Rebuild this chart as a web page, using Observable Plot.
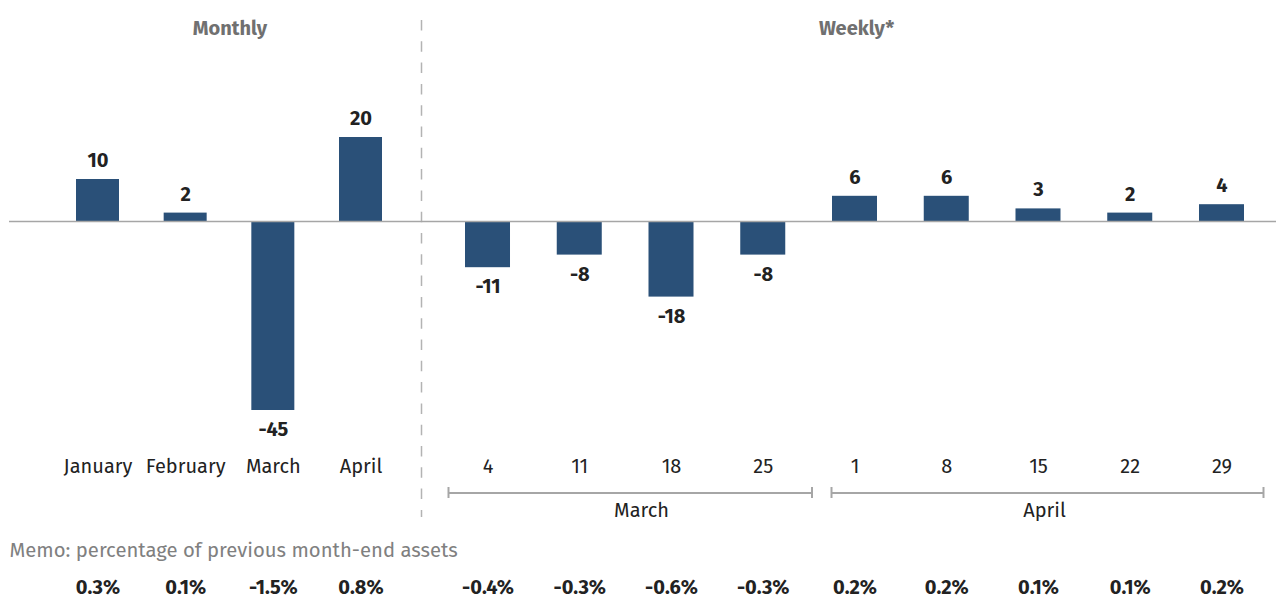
<!DOCTYPE html>
<html>
<head>
<meta charset="utf-8">
<script src="https://cdn.jsdelivr.net/npm/d3@7"></script>
<script src="https://cdn.jsdelivr.net/npm/@observablehq/plot@0.6"></script>
<style>
  html, body { margin: 0; padding: 0; background: #ffffff; }
  #chart { position: relative; width: 1276px; height: 598px; overflow: hidden; background: #ffffff; }
  #chart svg { position: absolute; left: 0; top: 0; }
</style>
</head>
<body>
<div id="chart"></div>
<script>
// ---- Data ----
const monthCategories = ["January", "February", "March", "April"];
const monthValues = [10, 2, -45, 20];
const monthShares = [0.3, 0.1, -1.5, 0.8];

const weekCategories = ["4", "11", "18", "25", "1", "8", "15", "22", "29"];
const weekValues = [-11, -8, -18, -8, 6, 6, 3, 2, 4];
const weekShares = [-0.4, -0.3, -0.6, -0.3, 0.2, 0.2, 0.1, 0.1, 0.2];

const groupNames = ["March", "April"];
const groupFirst = ["4", "1"];
const groupLast = ["25", "29"];

const panelTitles = ["Monthly", "Weekly*"];
const memoText = "Memo: percentage of previous month-end assets";

// ---- Styles ----
const W = 1276, H = 598;
const FONT = "'Fira Sans', Roboto, 'Noto Sans', sans-serif";
const BAR = "#2a5078";
const INK = "#222222";
const TITLE = "#707070";
const MEMO = "#808080";
const AXIS = "#a6a6a6";
const yScale = {domain: [-45, 20], range: [410, 137], axis: null};

const monthly = monthCategories.map((c, i) => ({cat: c, value: monthValues[i], share: monthShares[i]}));
const weekly = weekCategories.map((c, i) => ({cat: c, value: weekValues[i], share: weekShares[i]}));
const groups = groupNames.map((g, i) => ({name: g, first: groupFirst[i], last: groupLast[i]}));

const fmtPct = d => (d.share < 0 ? "-" : "") + Math.abs(d.share).toFixed(1) + "%";

function panelMarks(data) {
  return [
    Plot.barY(data, {x: "cat", y: "value", fill: BAR}),
    Plot.text(data.filter(d => d.value >= 0), {x: "cat", y: "value", text: d => String(d.value), dy: -19, lineAnchor: "middle", fontSize: 20, fontWeight: "bold", fill: INK}),
    Plot.text(data.filter(d => d.value < 0), {x: "cat", y: "value", text: d => String(d.value), dy: 19, lineAnchor: "middle", fontSize: 20, fontWeight: "bold", fill: INK}),
    Plot.text(data, {x: "cat", text: "cat", frameAnchor: "top", lineAnchor: "middle", dy: 466, fontSize: 20, fill: INK}),
    Plot.text(data, {x: "cat", text: fmtPct, frameAnchor: "top", lineAnchor: "middle", dy: 587, fontSize: 20, fontWeight: "bold", fill: INK})
  ];
}

const common = {
  width: W, height: H,
  marginTop: 0, marginRight: 0, marginBottom: 0, marginLeft: 0,
  y: yScale,
  style: {background: "transparent", overflow: "visible", fontFamily: FONT}
};

const monthPlot = Plot.plot({
  ...common,
  x: {type: "band", domain: monthCategories, range: [76, 382], paddingInner: 0.5095, paddingOuter: 0, round: false, axis: null},
  marks: [
    ...panelMarks(monthly),
    Plot.text([panelTitles[0]], {frameAnchor: "top-left", textAnchor: "middle", lineAnchor: "middle", dx: 229.5, dy: 28, fontSize: 20, fontWeight: "bold", fill: TITLE}),
    Plot.text([memoText], {frameAnchor: "top-left", lineAnchor: "middle", dx: 9, dy: 550, textAnchor: "start", fontSize: 20.3, fill: MEMO})
  ]
});

function bracket(g, insetLeft, insetRight, capLeft, capRight, labelAt, labelDx) {
  return [
    Plot.ruleY([g], {y: () => 0, x1: "first", x2: "last", dy: 271.5, insetLeft, insetRight, stroke: AXIS, strokeWidth: 2}),
    Plot.ruleX([g], {x: "first", dx: capLeft, insetTop: 487, insetBottom: 100, stroke: AXIS, strokeWidth: 2}),
    Plot.ruleX([g], {x: "last", dx: capRight, insetTop: 487, insetBottom: 100, stroke: AXIS, strokeWidth: 2}),
    Plot.text([g], {x: () => labelAt, text: "name", frameAnchor: "top", lineAnchor: "middle", dy: 510, dx: labelDx, fontSize: 20, fill: INK})
  ];
}

const weekPlot = Plot.plot({
  ...common,
  x: {type: "band", domain: weekCategories, range: [465, 1244], paddingInner: 0.5095, paddingOuter: 0, round: false, axis: null},
  marks: [
    ...panelMarks(weekly),
    Plot.text([panelTitles[1]], {frameAnchor: "top-left", textAnchor: "middle", lineAnchor: "middle", dx: 856, dy: 28, fontSize: 20, fontWeight: "bold", fill: TITLE}),
    ...bracket(groups[0], -17, -26, -39.5, 48.75, "18", -30),
    ...bracket(groups[1], -1, -19, -23.5, 41.5, "15", 6),
    Plot.ruleX([weekCategories[0]], {x: d => d, dx: -66.5, insetTop: 20, insetBottom: 81, stroke: "#b3b3b3", strokeWidth: 1.5, strokeDasharray: "10.5,10.8"}),
    Plot.ruleY([0], {insetLeft: 9, stroke: AXIS, strokeWidth: 1.5})
  ]
});

const host = document.getElementById("chart");
host.appendChild(monthPlot);
host.appendChild(weekPlot);
</script>
</body>
</html>
